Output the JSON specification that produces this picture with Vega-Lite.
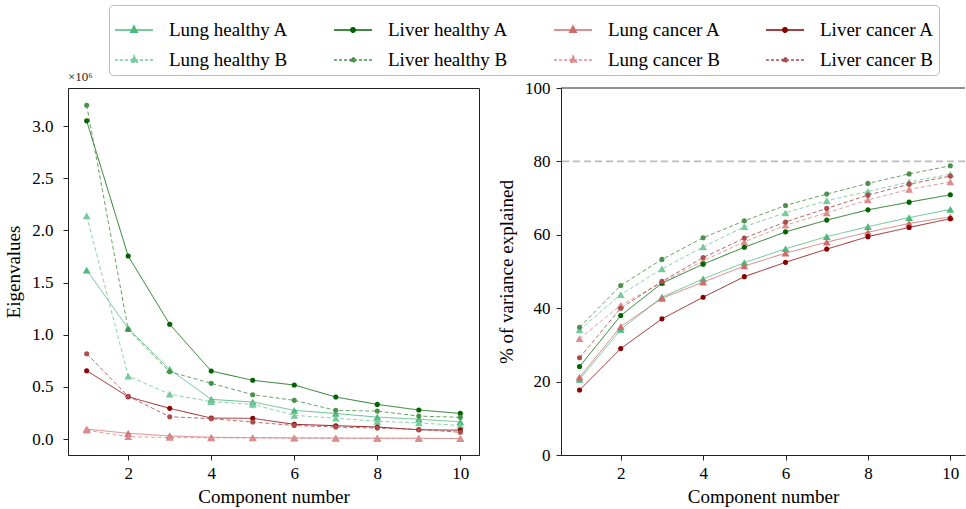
{
  "$schema": "https://vega.github.io/schema/vega-lite/v6.json",
  "background": "white",
  "padding": {"left": 4, "top": 4, "right": 0, "bottom": 4},
  "spacing": 17,
  "config": {
    "font": "Liberation Serif",
    "view": {"stroke": "#222", "strokeWidth": 1},
    "axis": {
      "domainColor": "#222", "tickColor": "#222", "labelColor": "#000", "titleColor": "#000",
      "grid": false, "tickSize": 5, "labelFontSize": 17, "titleFontSize": 19, "titleFontWeight": "normal",
      "labelFont": "Liberation Serif", "titleFont": "Liberation Serif", "labelFlush": false
    },
    "legend": {
      "labelFont": "Liberation Serif", "labelFontSize": 19, "labelColor": "#000",
      "columns": 4, "columnPadding": 42, "rowPadding": -9, "symbolSize": 1444, "labelOffset": 15,
      "padding": 5, "strokeColor": "#bbb", "fillColor": "white", "cornerRadius": 4, "symbolStrokeWidth": 1.5, "symbolOpacity": 1
    }
  },
  "datasets": {
    "eig": [
      {"series": "Lung healthy A", "organ": "Lung", "batch": "A", "component": 1, "value": 1620000},
      {"series": "Lung healthy A", "organ": "Lung", "batch": "A", "component": 2, "value": 1060000},
      {"series": "Lung healthy A", "organ": "Lung", "batch": "A", "component": 3, "value": 668000},
      {"series": "Lung healthy A", "organ": "Lung", "batch": "A", "component": 4, "value": 380000},
      {"series": "Lung healthy A", "organ": "Lung", "batch": "A", "component": 5, "value": 355000},
      {"series": "Lung healthy A", "organ": "Lung", "batch": "A", "component": 6, "value": 275000},
      {"series": "Lung healthy A", "organ": "Lung", "batch": "A", "component": 7, "value": 245000},
      {"series": "Lung healthy A", "organ": "Lung", "batch": "A", "component": 8, "value": 210000},
      {"series": "Lung healthy A", "organ": "Lung", "batch": "A", "component": 9, "value": 190000},
      {"series": "Lung healthy A", "organ": "Lung", "batch": "A", "component": 10, "value": 165000},
      {"series": "Lung healthy B", "organ": "Lung", "batch": "B", "component": 1, "value": 2140000},
      {"series": "Lung healthy B", "organ": "Lung", "batch": "B", "component": 2, "value": 604000},
      {"series": "Lung healthy B", "organ": "Lung", "batch": "B", "component": 3, "value": 430000},
      {"series": "Lung healthy B", "organ": "Lung", "batch": "B", "component": 4, "value": 358000},
      {"series": "Lung healthy B", "organ": "Lung", "batch": "B", "component": 5, "value": 333000},
      {"series": "Lung healthy B", "organ": "Lung", "batch": "B", "component": 6, "value": 227000},
      {"series": "Lung healthy B", "organ": "Lung", "batch": "B", "component": 7, "value": 200000},
      {"series": "Lung healthy B", "organ": "Lung", "batch": "B", "component": 8, "value": 170000},
      {"series": "Lung healthy B", "organ": "Lung", "batch": "B", "component": 9, "value": 155000},
      {"series": "Lung healthy B", "organ": "Lung", "batch": "B", "component": 10, "value": 130000},
      {"series": "Liver healthy A", "organ": "Liver", "batch": "A", "component": 1, "value": 3050000},
      {"series": "Liver healthy A", "organ": "Liver", "batch": "A", "component": 2, "value": 1754000},
      {"series": "Liver healthy A", "organ": "Liver", "batch": "A", "component": 3, "value": 1100000},
      {"series": "Liver healthy A", "organ": "Liver", "batch": "A", "component": 4, "value": 652000},
      {"series": "Liver healthy A", "organ": "Liver", "batch": "A", "component": 5, "value": 563000},
      {"series": "Liver healthy A", "organ": "Liver", "batch": "A", "component": 6, "value": 518000},
      {"series": "Liver healthy A", "organ": "Liver", "batch": "A", "component": 7, "value": 403000},
      {"series": "Liver healthy A", "organ": "Liver", "batch": "A", "component": 8, "value": 332000},
      {"series": "Liver healthy A", "organ": "Liver", "batch": "A", "component": 9, "value": 278000},
      {"series": "Liver healthy A", "organ": "Liver", "batch": "A", "component": 10, "value": 246000},
      {"series": "Liver healthy B", "organ": "Liver", "batch": "B", "component": 1, "value": 3200000},
      {"series": "Liver healthy B", "organ": "Liver", "batch": "B", "component": 2, "value": 1050000},
      {"series": "Liver healthy B", "organ": "Liver", "batch": "B", "component": 3, "value": 645000},
      {"series": "Liver healthy B", "organ": "Liver", "batch": "B", "component": 4, "value": 534000},
      {"series": "Liver healthy B", "organ": "Liver", "batch": "B", "component": 5, "value": 425000},
      {"series": "Liver healthy B", "organ": "Liver", "batch": "B", "component": 6, "value": 371000},
      {"series": "Liver healthy B", "organ": "Liver", "batch": "B", "component": 7, "value": 275000},
      {"series": "Liver healthy B", "organ": "Liver", "batch": "B", "component": 8, "value": 268000},
      {"series": "Liver healthy B", "organ": "Liver", "batch": "B", "component": 9, "value": 220000},
      {"series": "Liver healthy B", "organ": "Liver", "batch": "B", "component": 10, "value": 208000},
      {"series": "Lung cancer A", "organ": "Lung", "batch": "A", "component": 1, "value": 95000},
      {"series": "Lung cancer A", "organ": "Lung", "batch": "A", "component": 2, "value": 55000},
      {"series": "Lung cancer A", "organ": "Lung", "batch": "A", "component": 3, "value": 30000},
      {"series": "Lung cancer A", "organ": "Lung", "batch": "A", "component": 4, "value": 17000},
      {"series": "Lung cancer A", "organ": "Lung", "batch": "A", "component": 5, "value": 14000},
      {"series": "Lung cancer A", "organ": "Lung", "batch": "A", "component": 6, "value": 11000},
      {"series": "Lung cancer A", "organ": "Lung", "batch": "A", "component": 7, "value": 9000},
      {"series": "Lung cancer A", "organ": "Lung", "batch": "A", "component": 8, "value": 8000},
      {"series": "Lung cancer A", "organ": "Lung", "batch": "A", "component": 9, "value": 7000},
      {"series": "Lung cancer A", "organ": "Lung", "batch": "A", "component": 10, "value": 5000},
      {"series": "Lung cancer B", "organ": "Lung", "batch": "B", "component": 1, "value": 85000},
      {"series": "Lung cancer B", "organ": "Lung", "batch": "B", "component": 2, "value": 22000},
      {"series": "Lung cancer B", "organ": "Lung", "batch": "B", "component": 3, "value": 15000},
      {"series": "Lung cancer B", "organ": "Lung", "batch": "B", "component": 4, "value": 12000},
      {"series": "Lung cancer B", "organ": "Lung", "batch": "B", "component": 5, "value": 10000},
      {"series": "Lung cancer B", "organ": "Lung", "batch": "B", "component": 6, "value": 9000},
      {"series": "Lung cancer B", "organ": "Lung", "batch": "B", "component": 7, "value": 8000},
      {"series": "Lung cancer B", "organ": "Lung", "batch": "B", "component": 8, "value": 7000},
      {"series": "Lung cancer B", "organ": "Lung", "batch": "B", "component": 9, "value": 6000},
      {"series": "Lung cancer B", "organ": "Lung", "batch": "B", "component": 10, "value": 5000},
      {"series": "Liver cancer A", "organ": "Liver", "batch": "A", "component": 1, "value": 655000},
      {"series": "Liver cancer A", "organ": "Liver", "batch": "A", "component": 2, "value": 405000},
      {"series": "Liver cancer A", "organ": "Liver", "batch": "A", "component": 3, "value": 294000},
      {"series": "Liver cancer A", "organ": "Liver", "batch": "A", "component": 4, "value": 201000},
      {"series": "Liver cancer A", "organ": "Liver", "batch": "A", "component": 5, "value": 198000},
      {"series": "Liver cancer A", "organ": "Liver", "batch": "A", "component": 6, "value": 141000},
      {"series": "Liver cancer A", "organ": "Liver", "batch": "A", "component": 7, "value": 128000},
      {"series": "Liver cancer A", "organ": "Liver", "batch": "A", "component": 8, "value": 115000},
      {"series": "Liver cancer A", "organ": "Liver", "batch": "A", "component": 9, "value": 89000},
      {"series": "Liver cancer A", "organ": "Liver", "batch": "A", "component": 10, "value": 85000},
      {"series": "Liver cancer B", "organ": "Liver", "batch": "B", "component": 1, "value": 818000},
      {"series": "Liver cancer B", "organ": "Liver", "batch": "B", "component": 2, "value": 410000},
      {"series": "Liver cancer B", "organ": "Liver", "batch": "B", "component": 3, "value": 214000},
      {"series": "Liver cancer B", "organ": "Liver", "batch": "B", "component": 4, "value": 195000},
      {"series": "Liver cancer B", "organ": "Liver", "batch": "B", "component": 5, "value": 163000},
      {"series": "Liver cancer B", "organ": "Liver", "batch": "B", "component": 6, "value": 130000},
      {"series": "Liver cancer B", "organ": "Liver", "batch": "B", "component": 7, "value": 115000},
      {"series": "Liver cancer B", "organ": "Liver", "batch": "B", "component": 8, "value": 105000},
      {"series": "Liver cancer B", "organ": "Liver", "batch": "B", "component": 9, "value": 92000},
      {"series": "Liver cancer B", "organ": "Liver", "batch": "B", "component": 10, "value": 65000}
    ],
    "var": [
      {"series": "Lung healthy A", "organ": "Lung", "batch": "A", "component": 1, "value": 20.6},
      {"series": "Lung healthy A", "organ": "Lung", "batch": "A", "component": 2, "value": 34.2},
      {"series": "Lung healthy A", "organ": "Lung", "batch": "A", "component": 3, "value": 43.0},
      {"series": "Lung healthy A", "organ": "Lung", "batch": "A", "component": 4, "value": 48.0},
      {"series": "Lung healthy A", "organ": "Lung", "batch": "A", "component": 5, "value": 52.4},
      {"series": "Lung healthy A", "organ": "Lung", "batch": "A", "component": 6, "value": 56.2},
      {"series": "Lung healthy A", "organ": "Lung", "batch": "A", "component": 7, "value": 59.5},
      {"series": "Lung healthy A", "organ": "Lung", "batch": "A", "component": 8, "value": 62.2},
      {"series": "Lung healthy A", "organ": "Lung", "batch": "A", "component": 9, "value": 64.7},
      {"series": "Lung healthy A", "organ": "Lung", "batch": "A", "component": 10, "value": 66.9},
      {"series": "Lung healthy B", "organ": "Lung", "batch": "B", "component": 1, "value": 34.1},
      {"series": "Lung healthy B", "organ": "Lung", "batch": "B", "component": 2, "value": 43.7},
      {"series": "Lung healthy B", "organ": "Lung", "batch": "B", "component": 3, "value": 50.7},
      {"series": "Lung healthy B", "organ": "Lung", "batch": "B", "component": 4, "value": 56.7},
      {"series": "Lung healthy B", "organ": "Lung", "batch": "B", "component": 5, "value": 62.2},
      {"series": "Lung healthy B", "organ": "Lung", "batch": "B", "component": 6, "value": 66.0},
      {"series": "Lung healthy B", "organ": "Lung", "batch": "B", "component": 7, "value": 69.3},
      {"series": "Lung healthy B", "organ": "Lung", "batch": "B", "component": 8, "value": 71.8},
      {"series": "Lung healthy B", "organ": "Lung", "batch": "B", "component": 9, "value": 74.4},
      {"series": "Lung healthy B", "organ": "Lung", "batch": "B", "component": 10, "value": 76.5},
      {"series": "Liver healthy A", "organ": "Liver", "batch": "A", "component": 1, "value": 24.1},
      {"series": "Liver healthy A", "organ": "Liver", "batch": "A", "component": 2, "value": 38.0},
      {"series": "Liver healthy A", "organ": "Liver", "batch": "A", "component": 3, "value": 46.8},
      {"series": "Liver healthy A", "organ": "Liver", "batch": "A", "component": 4, "value": 52.0},
      {"series": "Liver healthy A", "organ": "Liver", "batch": "A", "component": 5, "value": 56.6},
      {"series": "Liver healthy A", "organ": "Liver", "batch": "A", "component": 6, "value": 60.8},
      {"series": "Liver healthy A", "organ": "Liver", "batch": "A", "component": 7, "value": 64.0},
      {"series": "Liver healthy A", "organ": "Liver", "batch": "A", "component": 8, "value": 66.8},
      {"series": "Liver healthy A", "organ": "Liver", "batch": "A", "component": 9, "value": 68.9},
      {"series": "Liver healthy A", "organ": "Liver", "batch": "A", "component": 10, "value": 70.9},
      {"series": "Liver healthy B", "organ": "Liver", "batch": "B", "component": 1, "value": 34.8},
      {"series": "Liver healthy B", "organ": "Liver", "batch": "B", "component": 2, "value": 46.2},
      {"series": "Liver healthy B", "organ": "Liver", "batch": "B", "component": 3, "value": 53.3},
      {"series": "Liver healthy B", "organ": "Liver", "batch": "B", "component": 4, "value": 59.2},
      {"series": "Liver healthy B", "organ": "Liver", "batch": "B", "component": 5, "value": 63.8},
      {"series": "Liver healthy B", "organ": "Liver", "batch": "B", "component": 6, "value": 68.0},
      {"series": "Liver healthy B", "organ": "Liver", "batch": "B", "component": 7, "value": 71.1},
      {"series": "Liver healthy B", "organ": "Liver", "batch": "B", "component": 8, "value": 74.0},
      {"series": "Liver healthy B", "organ": "Liver", "batch": "B", "component": 9, "value": 76.6},
      {"series": "Liver healthy B", "organ": "Liver", "batch": "B", "component": 10, "value": 78.8},
      {"series": "Lung cancer A", "organ": "Lung", "batch": "A", "component": 1, "value": 21.2},
      {"series": "Lung cancer A", "organ": "Lung", "batch": "A", "component": 2, "value": 35.0},
      {"series": "Lung cancer A", "organ": "Lung", "batch": "A", "component": 3, "value": 42.7},
      {"series": "Lung cancer A", "organ": "Lung", "batch": "A", "component": 4, "value": 47.1},
      {"series": "Lung cancer A", "organ": "Lung", "batch": "A", "component": 5, "value": 51.5},
      {"series": "Lung cancer A", "organ": "Lung", "batch": "A", "component": 6, "value": 55.0},
      {"series": "Lung cancer A", "organ": "Lung", "batch": "A", "component": 7, "value": 58.0},
      {"series": "Lung cancer A", "organ": "Lung", "batch": "A", "component": 8, "value": 60.7},
      {"series": "Lung cancer A", "organ": "Lung", "batch": "A", "component": 9, "value": 63.1},
      {"series": "Lung cancer A", "organ": "Lung", "batch": "A", "component": 10, "value": 64.9},
      {"series": "Lung cancer B", "organ": "Lung", "batch": "B", "component": 1, "value": 31.7},
      {"series": "Lung cancer B", "organ": "Lung", "batch": "B", "component": 2, "value": 40.8},
      {"series": "Lung cancer B", "organ": "Lung", "batch": "B", "component": 3, "value": 47.0},
      {"series": "Lung cancer B", "organ": "Lung", "batch": "B", "component": 4, "value": 52.9},
      {"series": "Lung cancer B", "organ": "Lung", "batch": "B", "component": 5, "value": 58.1},
      {"series": "Lung cancer B", "organ": "Lung", "batch": "B", "component": 6, "value": 62.6},
      {"series": "Lung cancer B", "organ": "Lung", "batch": "B", "component": 7, "value": 66.0},
      {"series": "Lung cancer B", "organ": "Lung", "batch": "B", "component": 8, "value": 69.5},
      {"series": "Lung cancer B", "organ": "Lung", "batch": "B", "component": 9, "value": 72.4},
      {"series": "Lung cancer B", "organ": "Lung", "batch": "B", "component": 10, "value": 74.4},
      {"series": "Liver cancer A", "organ": "Liver", "batch": "A", "component": 1, "value": 17.7},
      {"series": "Liver cancer A", "organ": "Liver", "batch": "A", "component": 2, "value": 29.0},
      {"series": "Liver cancer A", "organ": "Liver", "batch": "A", "component": 3, "value": 37.1},
      {"series": "Liver cancer A", "organ": "Liver", "batch": "A", "component": 4, "value": 43.0},
      {"series": "Liver cancer A", "organ": "Liver", "batch": "A", "component": 5, "value": 48.6},
      {"series": "Liver cancer A", "organ": "Liver", "batch": "A", "component": 6, "value": 52.5},
      {"series": "Liver cancer A", "organ": "Liver", "batch": "A", "component": 7, "value": 56.1},
      {"series": "Liver cancer A", "organ": "Liver", "batch": "A", "component": 8, "value": 59.5},
      {"series": "Liver cancer A", "organ": "Liver", "batch": "A", "component": 9, "value": 62.0},
      {"series": "Liver cancer A", "organ": "Liver", "batch": "A", "component": 10, "value": 64.4},
      {"series": "Liver cancer B", "organ": "Liver", "batch": "B", "component": 1, "value": 26.5},
      {"series": "Liver cancer B", "organ": "Liver", "batch": "B", "component": 2, "value": 40.0},
      {"series": "Liver cancer B", "organ": "Liver", "batch": "B", "component": 3, "value": 47.3},
      {"series": "Liver cancer B", "organ": "Liver", "batch": "B", "component": 4, "value": 53.8},
      {"series": "Liver cancer B", "organ": "Liver", "batch": "B", "component": 5, "value": 59.1},
      {"series": "Liver cancer B", "organ": "Liver", "batch": "B", "component": 6, "value": 63.5},
      {"series": "Liver cancer B", "organ": "Liver", "batch": "B", "component": 7, "value": 67.2},
      {"series": "Liver cancer B", "organ": "Liver", "batch": "B", "component": 8, "value": 70.8},
      {"series": "Liver cancer B", "organ": "Liver", "batch": "B", "component": 9, "value": 73.8},
      {"series": "Liver cancer B", "organ": "Liver", "batch": "B", "component": 10, "value": 76.0}
    ],
    "thresholds": [{"level": 80}],
    "frame": [{"level": 100}]
  },
  "resolve": {"scale": {"color": "shared", "strokeDash": "shared"}},
  "hconcat": [
    {
      "width": 411,
      "height": 367,
      "title": {"text": "×10⁶", "anchor": "start", "frame": "group", "fontSize": 13, "font": "Liberation Serif", "fontWeight": "normal", "offset": 4, "color": "#222"},
      "data": {"name": "eig"},
      "layer": [
        {
          "mark": {"type": "line", "strokeWidth": 1, "opacity": 0.85},
          "encoding": {
            "x": {"field": "component", "type": "quantitative", "scale": {"domain": [0.55, 10.45], "nice": false, "zero": false},
                  "axis": {"values": [2, 4, 6, 8, 10], "title": "Component number", "labelPadding": 5, "titlePadding": 6}},
            "y": {"field": "value", "type": "quantitative", "scale": {"domain": [-153000, 3365000], "nice": false, "zero": false},
                  "axis": {"values": [0, 500000, 1000000, 1500000, 2000000, 2500000, 3000000], "labelExpr": "format(datum.value/1000000, '.1f')", "title": "Eigenvalues", "labelPadding": 10, "titlePadding": 8}},
            "color": {"field": "series", "type": "nominal",
              "scale": {"domain": ["Lung healthy A", "Liver healthy A", "Lung cancer A", "Liver cancer A", "Lung healthy B", "Liver healthy B", "Lung cancer B", "Liver cancer B"],
                        "range": ["#4cba7c", "#006400", "#d26c6c", "#8b0000", "#77ca9c", "#4c924c", "#dc8d8d", "#ae4c4c"]},
              "legend": {
                "title": null, "orient": "none", "legendX": 41, "legendY": -83, "direction": "horizontal", "columns": 4,
                "encode": {"symbols": {"update": {
                  "shape": {"signal": "indexof(datum.value,'Lung')>=0 ? 'M-1,0H1M0,-0.21L0.17,0.12L-0.17,0.12Z' : 'M-1,0H1M0.12,0A0.12,0.12 0 1,1 -0.12,0A0.12,0.12 0 1,1 0.12,0Z'"},
                  "strokeDash": {"signal": "indexof(datum.value,' B')>=0 ? [3,2] : [1,0]"},
                  "fill": {"scale": "color", "field": "value"},
                  "stroke": {"scale": "color", "field": "value"},
                  "strokeWidth": {"value": 1.5},
                  "opacity": {"value": 1}
                }}}
              }},
            "strokeDash": {"field": "batch", "type": "nominal", "legend": null,
              "scale": {"domain": ["A", "B"], "range": [[1, 0], [4, 2.5]]}}
          }
        },
        {
          "transform": [{"filter": "datum.organ == 'Lung'"}],
          "mark": {"type": "point", "filled": true, "opacity": 1, "shape": "triangle-up", "size": 60},
          "encoding": {
            "x": {"field": "component", "type": "quantitative"},
            "y": {"field": "value", "type": "quantitative"},
            "color": {"field": "series", "type": "nominal",
              "legend": {
                "title": null, "orient": "none", "legendX": 41, "legendY": -83, "direction": "horizontal", "columns": 4,
                "encode": {"symbols": {"update": {
                  "shape": {"signal": "indexof(datum.value,'Lung')>=0 ? 'M-1,0H1M0,-0.21L0.17,0.12L-0.17,0.12Z' : 'M-1,0H1M0.12,0A0.12,0.12 0 1,1 -0.12,0A0.12,0.12 0 1,1 0.12,0Z'"},
                  "strokeDash": {"signal": "indexof(datum.value,' B')>=0 ? [3,2] : [1,0]"},
                  "fill": {"scale": "color", "field": "value"},
                  "stroke": {"scale": "color", "field": "value"},
                  "strokeWidth": {"value": 1.5},
                  "opacity": {"value": 1}
                }}}
              }}
          }
        },
        {
          "transform": [{"filter": "datum.organ == 'Liver'"}],
          "mark": {"type": "point", "filled": true, "opacity": 1, "shape": "circle", "size": 26},
          "encoding": {
            "x": {"field": "component", "type": "quantitative"},
            "y": {"field": "value", "type": "quantitative"},
            "color": {"field": "series", "type": "nominal",
              "legend": {
                "title": null, "orient": "none", "legendX": 41, "legendY": -83, "direction": "horizontal", "columns": 4,
                "encode": {"symbols": {"update": {
                  "shape": {"signal": "indexof(datum.value,'Lung')>=0 ? 'M-1,0H1M0,-0.21L0.17,0.12L-0.17,0.12Z' : 'M-1,0H1M0.12,0A0.12,0.12 0 1,1 -0.12,0A0.12,0.12 0 1,1 0.12,0Z'"},
                  "strokeDash": {"signal": "indexof(datum.value,' B')>=0 ? [3,2] : [1,0]"},
                  "fill": {"scale": "color", "field": "value"},
                  "stroke": {"scale": "color", "field": "value"},
                  "strokeWidth": {"value": 1.5},
                  "opacity": {"value": 1}
                }}}
              }}
          }
        }
      ]
    },
    {
      "width": 404,
      "height": 367,
      "view": {"stroke": null},
      "layer": [
        {
          "data": {"name": "thresholds"},
          "mark": {"type": "rule", "color": "#bbbbbb", "strokeWidth": 1.6, "strokeDash": [7, 4]},
          "encoding": {"y": {"field": "level", "type": "quantitative"}}
        },
        {
          "data": {"name": "frame"},
          "mark": {"type": "rule", "color": "#222", "strokeWidth": 1},
          "encoding": {"y": {"field": "level", "type": "quantitative"}}
        },
        {
          "data": {"name": "var"},
          "mark": {"type": "line", "strokeWidth": 1, "opacity": 0.85},
          "encoding": {
            "x": {"field": "component", "type": "quantitative", "scale": {"domain": [0.55, 10.356], "nice": false, "zero": false},
                  "axis": {"values": [2, 4, 6, 8, 10], "title": "Component number", "labelPadding": 5, "titlePadding": 6}},
            "y": {"field": "value", "type": "quantitative", "scale": {"domain": [0, 100], "nice": false, "zero": false},
                  "axis": {"values": [0, 20, 40, 60, 80, 100], "title": "% of variance explained", "labelPadding": 6, "titlePadding": 8}},
            "color": {"field": "series", "type": "nominal",
              "legend": {
                "title": null, "orient": "none", "legendX": 41, "legendY": -83, "direction": "horizontal", "columns": 4,
                "encode": {"symbols": {"update": {
                  "shape": {"signal": "indexof(datum.value,'Lung')>=0 ? 'M-1,0H1M0,-0.21L0.17,0.12L-0.17,0.12Z' : 'M-1,0H1M0.12,0A0.12,0.12 0 1,1 -0.12,0A0.12,0.12 0 1,1 0.12,0Z'"},
                  "strokeDash": {"signal": "indexof(datum.value,' B')>=0 ? [3,2] : [1,0]"},
                  "fill": {"scale": "color", "field": "value"},
                  "stroke": {"scale": "color", "field": "value"},
                  "strokeWidth": {"value": 1.5},
                  "opacity": {"value": 1}
                }}}
              }},
            "strokeDash": {"field": "batch", "type": "nominal", "legend": null}
          }
        },
        {
          "data": {"name": "var"},
          "transform": [{"filter": "datum.organ == 'Lung'"}],
          "mark": {"type": "point", "filled": true, "opacity": 1, "shape": "triangle-up", "size": 60},
          "encoding": {
            "x": {"field": "component", "type": "quantitative"},
            "y": {"field": "value", "type": "quantitative"},
            "color": {"field": "series", "type": "nominal",
              "legend": {
                "title": null, "orient": "none", "legendX": 41, "legendY": -83, "direction": "horizontal", "columns": 4,
                "encode": {"symbols": {"update": {
                  "shape": {"signal": "indexof(datum.value,'Lung')>=0 ? 'M-1,0H1M0,-0.21L0.17,0.12L-0.17,0.12Z' : 'M-1,0H1M0.12,0A0.12,0.12 0 1,1 -0.12,0A0.12,0.12 0 1,1 0.12,0Z'"},
                  "strokeDash": {"signal": "indexof(datum.value,' B')>=0 ? [3,2] : [1,0]"},
                  "fill": {"scale": "color", "field": "value"},
                  "stroke": {"scale": "color", "field": "value"},
                  "strokeWidth": {"value": 1.5},
                  "opacity": {"value": 1}
                }}}
              }}
          }
        },
        {
          "data": {"name": "var"},
          "transform": [{"filter": "datum.organ == 'Liver'"}],
          "mark": {"type": "point", "filled": true, "opacity": 1, "shape": "circle", "size": 26},
          "encoding": {
            "x": {"field": "component", "type": "quantitative"},
            "y": {"field": "value", "type": "quantitative"},
            "color": {"field": "series", "type": "nominal",
              "legend": {
                "title": null, "orient": "none", "legendX": 41, "legendY": -83, "direction": "horizontal", "columns": 4,
                "encode": {"symbols": {"update": {
                  "shape": {"signal": "indexof(datum.value,'Lung')>=0 ? 'M-1,0H1M0,-0.21L0.17,0.12L-0.17,0.12Z' : 'M-1,0H1M0.12,0A0.12,0.12 0 1,1 -0.12,0A0.12,0.12 0 1,1 0.12,0Z'"},
                  "strokeDash": {"signal": "indexof(datum.value,' B')>=0 ? [3,2] : [1,0]"},
                  "fill": {"scale": "color", "field": "value"},
                  "stroke": {"scale": "color", "field": "value"},
                  "strokeWidth": {"value": 1.5},
                  "opacity": {"value": 1}
                }}}
              }}
          }
        }
      ]
    }
  ]
}
